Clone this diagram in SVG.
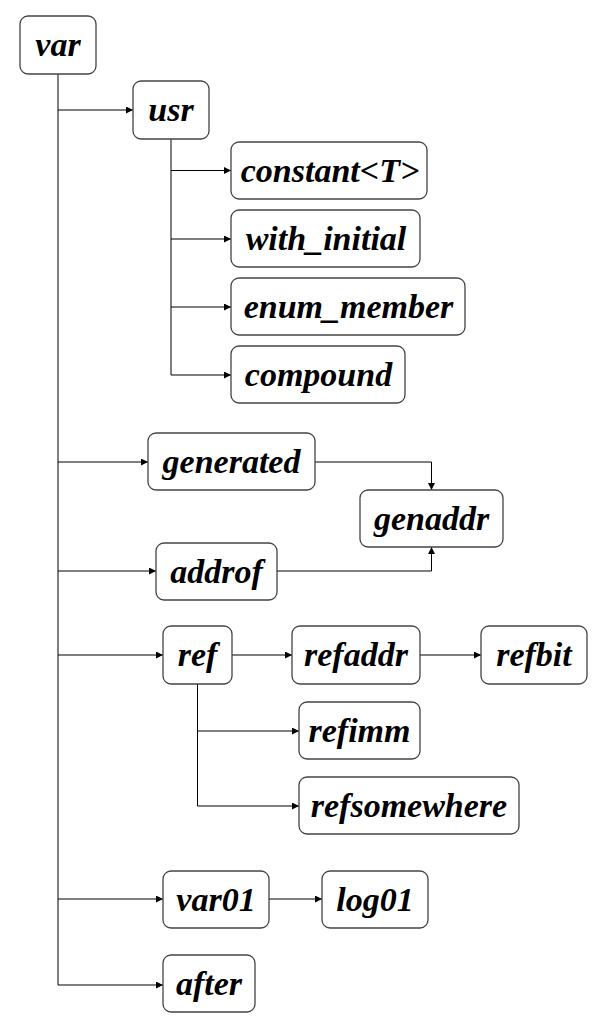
<svg xmlns="http://www.w3.org/2000/svg" width="614" height="1031" viewBox="0 0 614 1031">
<defs>
<marker id="arr" viewBox="0 0 10 10" refX="10" refY="5" markerWidth="9" markerHeight="7" markerUnits="userSpaceOnUse" orient="auto">
<path d="M0,0 L10,5 L0,10 z" fill="#000"/>
</marker>
<style>
.n rect{fill:#fff;stroke:#444;stroke-width:1.3}
#edges path{fill:none;stroke:#000;stroke-width:1}
</style>
</defs>
<rect width="614" height="1031" fill="#fff"/>
<g id="edges">
<path d="M58,74 V985"/>
<path d="M58,110 H133" marker-end="url(#arr)"/>
<path d="M171,139 V375"/>
<path d="M171,170.5 H231" marker-end="url(#arr)"/>
<path d="M171,239 H231" marker-end="url(#arr)"/>
<path d="M171,307 H231" marker-end="url(#arr)"/>
<path d="M171,375 H231" marker-end="url(#arr)"/>
<path d="M58,462 H148" marker-end="url(#arr)"/>
<path d="M315,462 H431.5 V490" marker-end="url(#arr)"/>
<path d="M58,571 H156" marker-end="url(#arr)"/>
<path d="M277,571 H431.5 V547" marker-end="url(#arr)"/>
<path d="M58,655 H163" marker-end="url(#arr)"/>
<path d="M232,655 H292" marker-end="url(#arr)"/>
<path d="M420,655 H481" marker-end="url(#arr)"/>
<path d="M197.5,684 V806"/>
<path d="M197.5,731 H299" marker-end="url(#arr)"/>
<path d="M197.5,806 H299" marker-end="url(#arr)"/>
<path d="M58,899 H163" marker-end="url(#arr)"/>
<path d="M269,899 H322" marker-end="url(#arr)"/>
<path d="M58,985 H163" marker-end="url(#arr)"/>
</g>
<g font-family="Liberation Serif" font-size="34" font-weight="bold" font-style="italic" text-anchor="middle" fill="#000">
<g id="var" class="n"><rect x="20" y="16" width="76" height="58" rx="8"/><text x="58" y="56">var</text></g>
<g id="usr" class="n"><rect x="133" y="81" width="76" height="58" rx="8"/><text x="171" y="121">usr</text></g>
<g id="constant" class="n"><rect x="231" y="142" width="196" height="57" rx="8"/><text x="330" y="181.5">constant&lt;T&gt;</text></g>
<g id="with_initial" class="n"><rect x="231" y="210" width="189" height="57" rx="8"/><text x="326" y="249.5">with_initial</text></g>
<g id="enum_member" class="n"><rect x="231" y="278" width="234" height="57" rx="8"/><text x="348.5" y="317.5">enum_member</text></g>
<g id="compound" class="n"><rect x="231" y="346" width="174" height="57" rx="8"/><text x="318.5" y="385.5">compound</text></g>
<g id="generated" class="n"><rect x="148" y="433" width="167" height="57" rx="8"/><text x="231.5" y="472.5">generated</text></g>
<g id="genaddr" class="n"><rect x="360" y="490" width="143" height="57" rx="8"/><text x="431.5" y="529.5">genaddr</text></g>
<g id="addrof" class="n"><rect x="156" y="543" width="121" height="57" rx="8"/><text x="216.5" y="582.5">addrof</text></g>
<g id="ref" class="n"><rect x="163" y="626" width="69" height="58" rx="8"/><text x="197.5" y="666">ref</text></g>
<g id="refaddr" class="n"><rect x="292" y="626" width="128" height="58" rx="8"/><text x="356" y="666">refaddr</text></g>
<g id="refbit" class="n"><rect x="481" y="626" width="106" height="58" rx="8"/><text x="534" y="666">refbit</text></g>
<g id="refimm" class="n"><rect x="299" y="702" width="121" height="57" rx="8"/><text x="359.5" y="741.5">refimm</text></g>
<g id="refsomewhere" class="n"><rect x="299" y="777" width="220" height="57" rx="8"/><text x="409" y="816.5">refsomewhere</text></g>
<g id="var01" class="n"><rect x="163" y="871" width="106" height="57" rx="8"/><text x="216" y="910.5">var01</text></g>
<g id="log01" class="n"><rect x="322" y="871" width="106" height="57" rx="8"/><text x="375" y="910.5">log01</text></g>
<g id="after" class="n"><rect x="163" y="955" width="92" height="57" rx="8"/><text x="209" y="994.5">after</text></g>
</g>
</svg>
